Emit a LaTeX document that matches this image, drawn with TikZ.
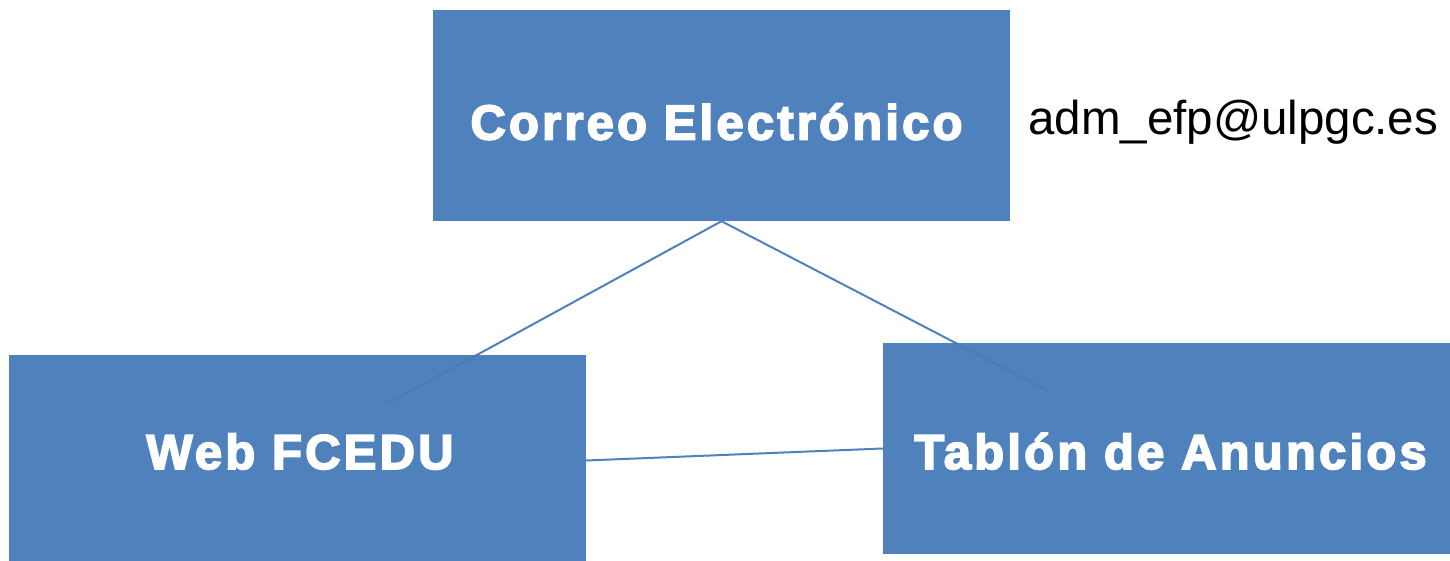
\documentclass[tikz,border=0pt]{standalone}
\usepackage{fontspec}
\setmainfont{Liberation Sans}[BoldFeatures={FakeBold=3.5,LetterSpace=6.5}]
\usetikzlibrary{backgrounds}
\definecolor{boxblue}{RGB}{79,129,189}
\definecolor{innerline}{RGB}{70,115,172}
\tikzset{
  box/.style={rectangle, fill=boxblue, draw=none, inner sep=0pt, text=white,
    font=\fontsize{49}{54}\selectfont\bfseries, text depth=0pt, minimum height=211pt},
  link/.style={draw=boxblue, line width=2pt},
  faint/.style={draw=innerline, line width=1.6pt, opacity=0.6},
  mail/.style={anchor=base west, inner sep=0pt, text=black, font=\fontsize{47.5}{52}\selectfont}
}
\begin{document}
\begin{tikzpicture}[x=1pt,y=-1pt]
\useasboundingbox (0,0) rectangle (1450,561);
\coordinate (lw) at (389,403);
\coordinate (rw) at (1048,391);
\node[box, minimum width=577pt, text height=48pt] (ce) at (721.5,115.5)
  {Correo Electrónico\hspace*{10pt}};
\node[box, minimum width=577pt, text height=17pt] (web) at (297.5,460.5)
  {\hspace*{5pt}Web FCEDU};
\node[box, minimum width=567pt, text height=41pt] (tab) at (1166.5,448.5)
  {\hspace*{8pt}Tablón de Anuncios};
\begin{scope}[on background layer]
\draw[link] (ce.south) -- (lw);
\draw[link] (ce.south) -- (rw);
\draw[link] (web.east) -- (tab.west);
\end{scope}
\begin{scope}
\clip (web.south west) rectangle (web.north east);
\draw[faint] (ce.south) -- (lw);
\end{scope}
\begin{scope}
\clip (tab.south west) rectangle (tab.north east);
\draw[faint] (ce.south) -- (rw);
\end{scope}
\node[mail] (mailtxt) at (1028,135) {adm\_efp@ulpgc.es};
\end{tikzpicture}
\end{document}
